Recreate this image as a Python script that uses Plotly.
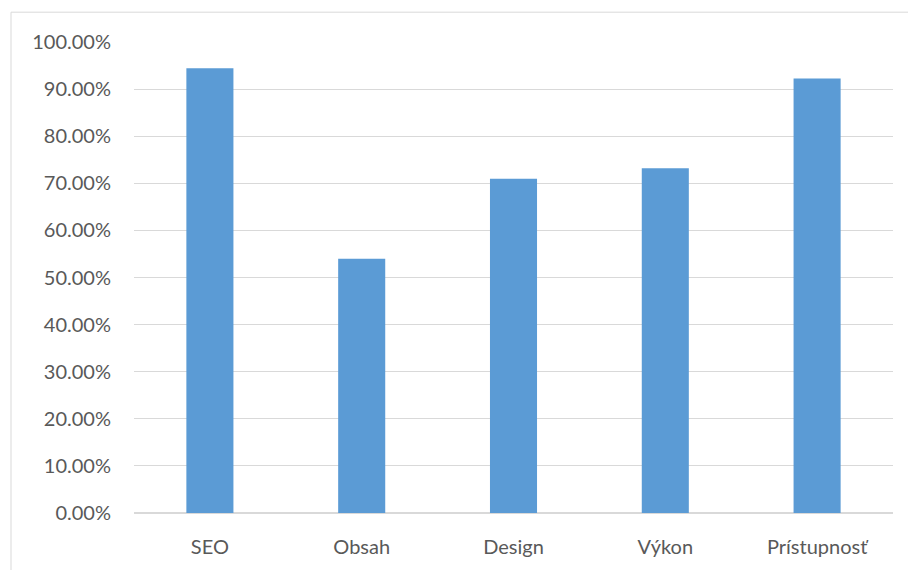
import plotly.graph_objects as go

categories = ["SEO", "Obsah", "Design", "Výkon", "Prístupnosť"]
values = [0.9445, 0.540, 0.7095, 0.732, 0.9226]
tick_vals = [i / 10 for i in range(11)]

fig = go.Figure(go.Bar(x=categories, y=values, marker_color="#5B9BD5",
                       marker_line_width=0))

L, R, T, B = 134, 15, 42, 54
W, H = 908, 570
pw, ph = W - L - R, H - T - B

fig.update_layout(
    width=W, height=H,
    margin=dict(l=L, r=R, t=T, b=B),
    paper_bgcolor="white", plot_bgcolor="white",
    bargap=0.69,
    font=dict(family="Lato", size=20, color="#595959"),
    showlegend=False,
    shapes=[dict(type="rect", xref="paper", yref="paper",
                 x0=(11 - L) / pw, x1=(W + 5 - L) / pw,
                 y0=-(H + 5 - (H - B)) / ph, y1=(H - B - 12) / ph,
                 line=dict(color="#D9D9D9", width=1), fillcolor="rgba(0,0,0,0)",
                 layer="below")],
)
fig.update_yaxes(range=[0, 1], tickvals=tick_vals, tickformat=".2%",
                 showgrid=True, gridcolor="#D9D9D9", gridwidth=1,
                 zeroline=True, zerolinecolor="#D9D9D9", showline=False,
                 ticklabelstandoff=22, fixedrange=True)
fig.update_xaxes(showgrid=False, showline=False, ticks="",
                 ticklabelstandoff=20, fixedrange=True)

fig.write_html("out.html")
